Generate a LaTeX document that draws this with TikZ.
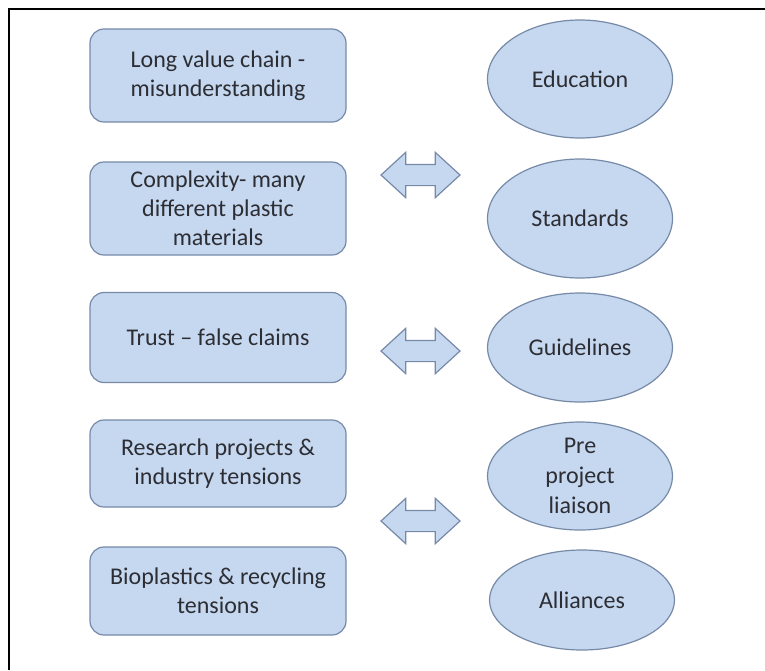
\documentclass[tikz,border=0pt]{standalone}
\usepackage{fontspec}
\setmainfont{Carlito}
\usepackage{tikz}
\usetikzlibrary{shapes.geometric,shapes.arrows}
\definecolor{boxblue}{RGB}{197,216,240}
\definecolor{edgeblue}{RGB}{118,138,168}
\definecolor{inkgrey}{RGB}{45,45,52}

\begin{document}
\begin{tikzpicture}[x=1pt,y=-1pt,font=\fontsize{24}{29}\selectfont,
  issue/.style={rounded corners=14pt,draw=edgeblue,fill=boxblue,line width=1.2pt,text=inkgrey,minimum width=256pt,minimum height=90pt,align=center,inner sep=4pt},
  remedy/.style={ellipse,draw=edgeblue,fill=boxblue,line width=1.2pt,text=inkgrey,minimum width=185pt,align=center,inner sep=0pt},
  link/.style={double arrow,draw=edgeblue,fill=boxblue,line width=1.2pt,minimum height=79pt,inner xsep=0pt,inner ysep=10pt,double arrow head extend=12pt,double arrow tip angle=85}]
\useasboundingbox (0,0) rectangle (765,670);
\draw[line width=2pt] (9,670) -- (9,8.5) -- (765,8.5);
% problems on the left
\node[issue,minimum height=93pt] (b1) at (218,75.5) {Long value chain -\\misunderstanding};
\node[issue,minimum height=93pt] (b2) at (218,208.5) {Complexity- many\\different plastic\\materials};
\node[issue] (b3) at (218,337.5) {Trust -- false claims};
\node[issue,minimum height=87pt] (b4) at (218,463.5) {Research projects \&\\industry tensions};
\node[issue,minimum height=88pt] (b5) at (218,591) {Bioplastics \& recycling\\tensions};
% responses on the right
\node[remedy,minimum height=118pt] (e1) at (580,79) {Education};
\node[remedy,minimum height=119pt] (e2) at (580,218.5) {Standards};
\node[remedy,minimum height=109pt] (e3) at (580,347.5) {Guidelines};
\node[remedy,minimum height=108pt,font=\fontsize{24}{30}\selectfont] (e4) at (580,476) {Pre\\project\\liaison};
\node[remedy,minimum height=100pt] (e5) at (582,600) {Alliances};
% two-way arrows between the columns
\node[link] (d1) at (420.5,175) {};
\node[link] (d2) at (420.5,351) {};
\node[link] (d3) at (420.5,521) {};
\end{tikzpicture}
\end{document}
